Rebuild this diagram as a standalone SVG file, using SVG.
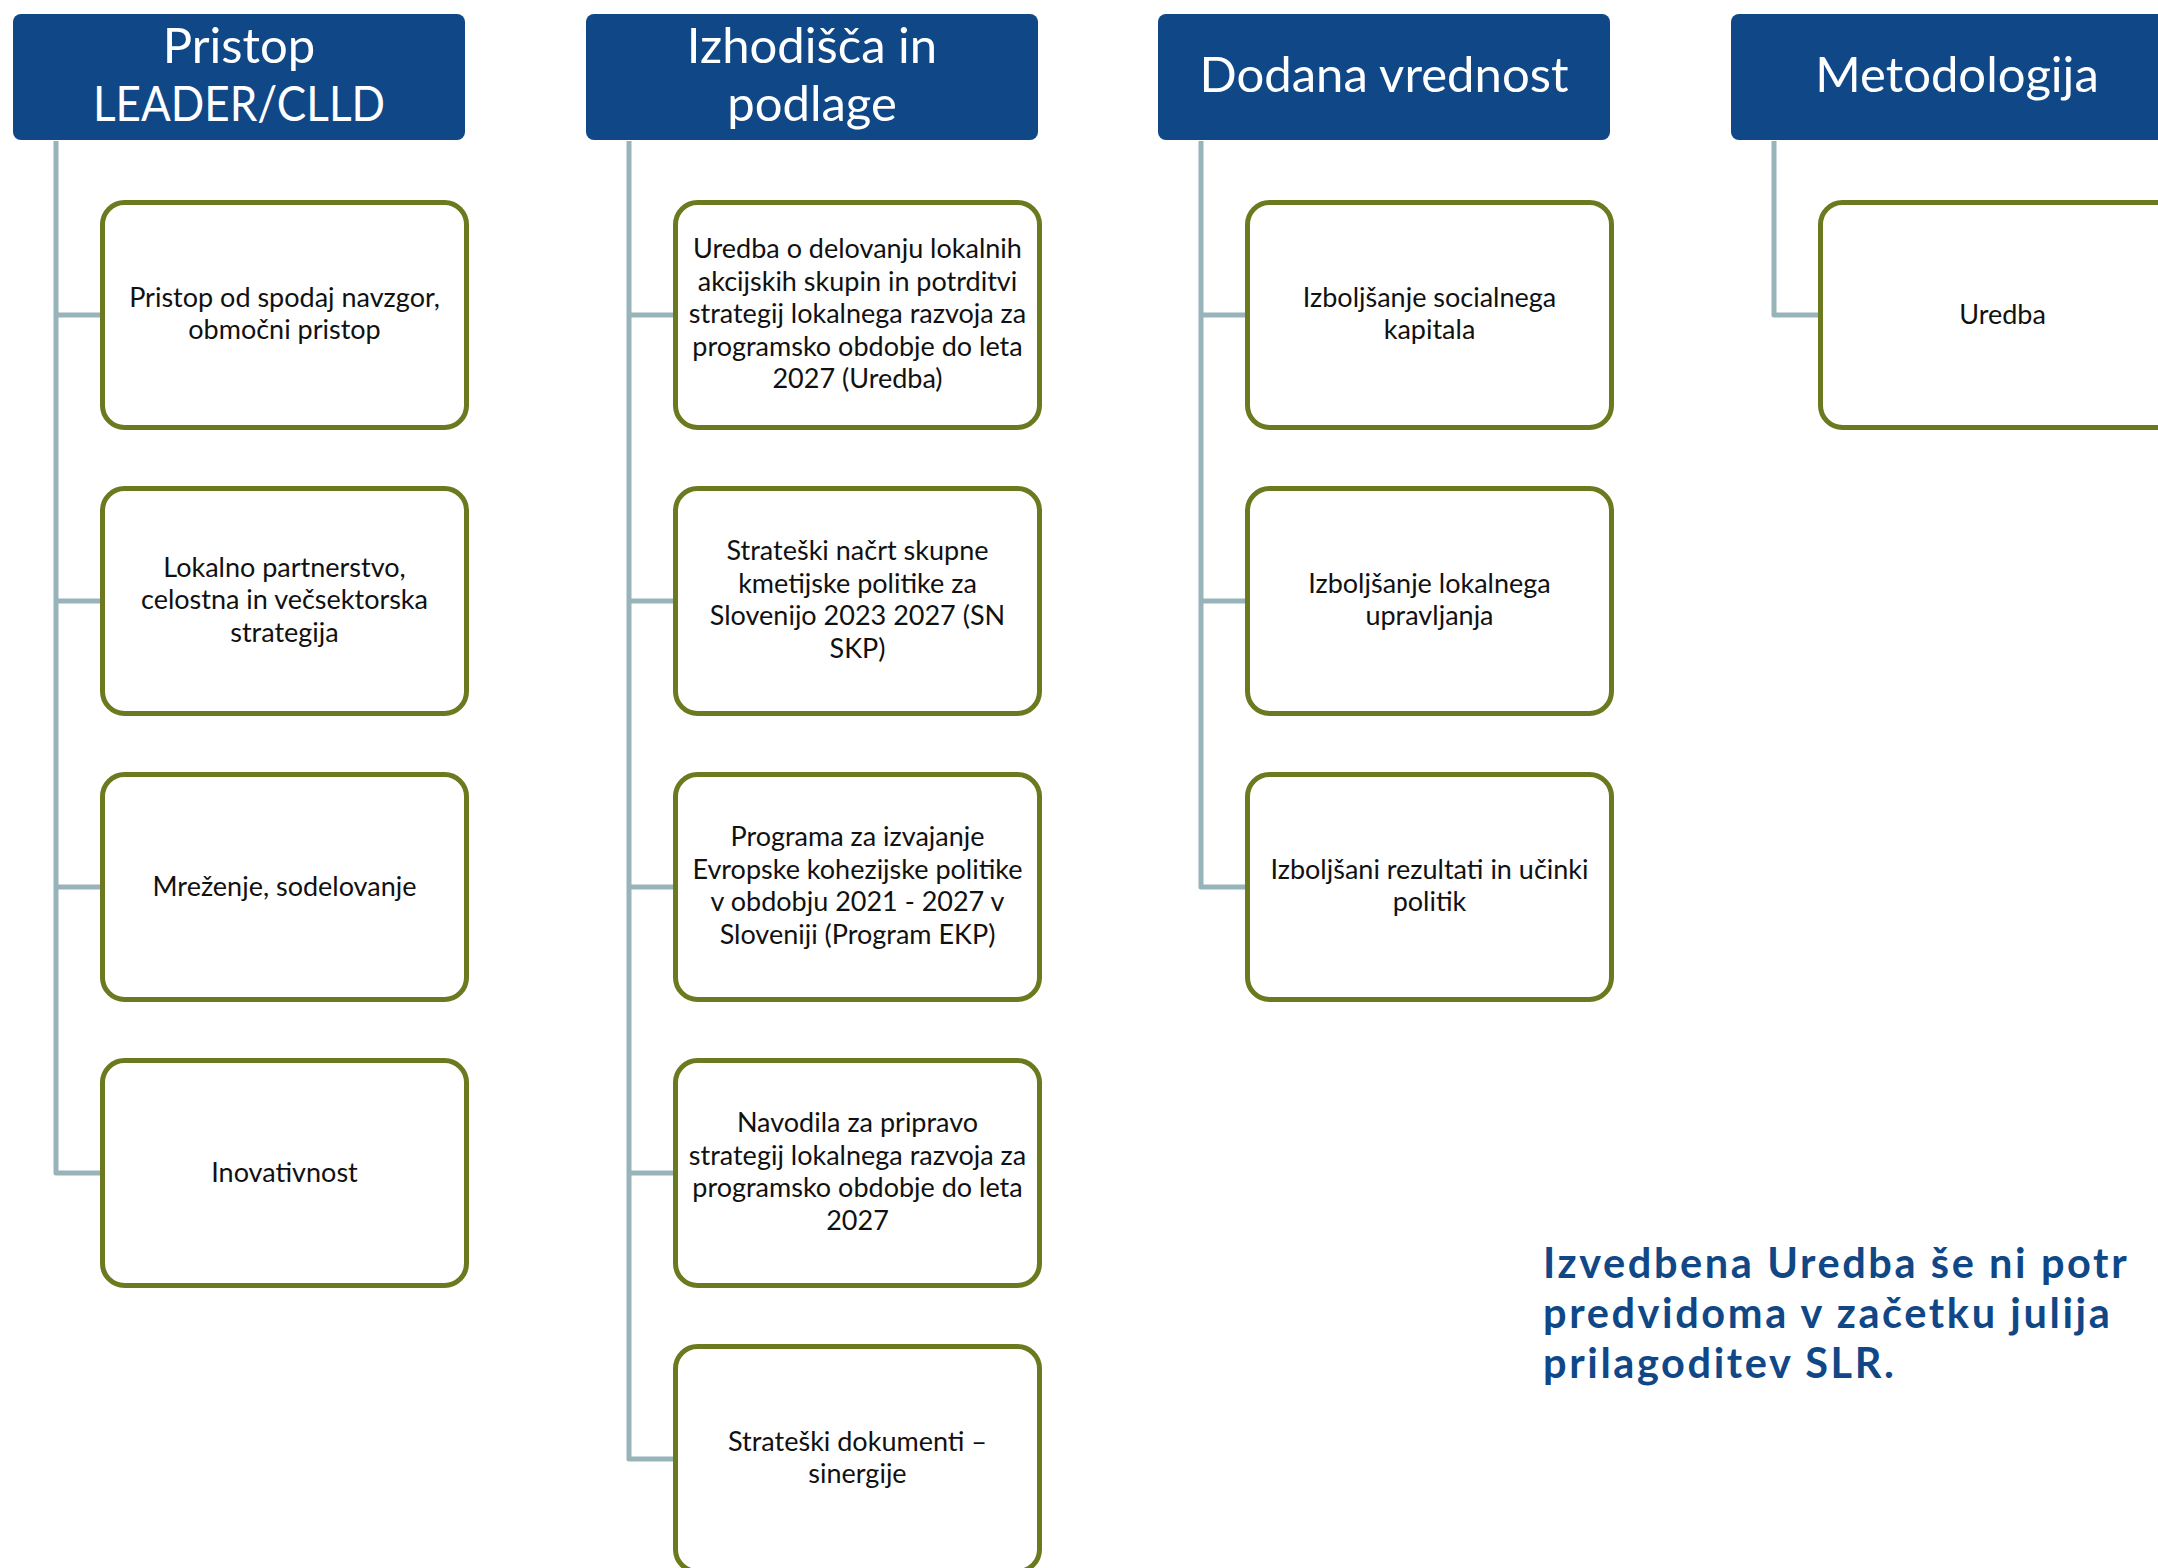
<svg xmlns="http://www.w3.org/2000/svg" width="2158" height="1568" viewBox="0 0 2158 1568">
<style>
.hdr{fill:#104887;}
.ht{fill:#ffffff;font-family:Lato,"Open Sans","Liberation Sans",sans-serif;font-size:49px;text-anchor:middle;}
.box{fill:#ffffff;stroke:#6b7a1f;stroke-width:5;}
.bt{fill:#111111;font-family:Lato,"Open Sans","Liberation Sans",sans-serif;font-size:27px;text-anchor:middle;}
.con{fill:none;stroke:#97b4ba;stroke-width:5;stroke-linejoin:round;}
.note{fill:#104887;font-family:Lato,"Open Sans","Liberation Sans",sans-serif;font-size:41.5px;font-weight:bold;letter-spacing:2.6px;}
</style>
<rect width="2158" height="1568" fill="#ffffff"/>
<g id="connectors">
<path class="con" d="M56,141 V1173 H100 M56,315 H100 M56,601 H100 M56,887 H100"/>
<path class="con" d="M629,141 V1459 H673 M629,315 H673 M629,601 H673 M629,887 H673 M629,1173 H673"/>
<path class="con" d="M1201,141 V887 H1245 M1201,315 H1245 M1201,601 H1245"/>
<path class="con" d="M1774,141 V315 H1818"/>
</g>
<g id="h1"><rect class="hdr" x="13" y="14" width="452" height="126" rx="8"/><text class="ht" x="239" y="63">Pristop</text><text class="ht" x="239" y="121" textLength="292" lengthAdjust="spacingAndGlyphs">LEADER/CLLD</text></g>
<g id="h2"><rect class="hdr" x="586" y="14" width="452" height="126" rx="8"/><text class="ht" x="812" y="63">Izhodišča in</text><text class="ht" x="812" y="121">podlage</text></g>
<g id="h3"><rect class="hdr" x="1158" y="14" width="452" height="126" rx="8"/><text class="ht" x="1384" y="92">Dodana vrednost</text></g>
<g id="h4"><rect class="hdr" x="1731" y="14" width="452" height="126" rx="8"/><text class="ht" x="1957" y="92">Metodologija</text></g>

<g id="c1r1"><rect class="box" x="102.5" y="202.5" width="364" height="225" rx="22"/><text class="bt" x="284.5" y="306.7">Pristop od spodaj navzgor,</text><text class="bt" x="284.5" y="339.2">območni pristop</text></g>
<g id="c1r2"><rect class="box" x="102.5" y="488.5" width="364" height="225" rx="22"/><text class="bt" x="284.5" y="576.5">Lokalno partnerstvo,</text><text class="bt" x="284.5" y="609">celostna in večsektorska</text><text class="bt" x="284.5" y="641.5">strategija</text></g>
<g id="c1r3"><rect class="box" x="102.5" y="774.5" width="364" height="225" rx="22"/><text class="bt" x="284.5" y="896">Mreženje, sodelovanje</text></g>
<g id="c1r4"><rect class="box" x="102.5" y="1060.5" width="364" height="225" rx="22"/><text class="bt" x="284.5" y="1182">Inovativnost</text></g>

<g id="c2r1"><rect class="box" x="675.5" y="202.5" width="364" height="225" rx="22"/><text class="bt" x="857.5" y="258">Uredba o delovanju lokalnih</text><text class="bt" x="857.5" y="290.5">akcijskih skupin in potrditvi</text><text class="bt" x="857.5" y="323">strategij lokalnega razvoja za</text><text class="bt" x="857.5" y="355.5">programsko obdobje do leta</text><text class="bt" x="857.5" y="388">2027 (Uredba)</text></g>
<g id="c2r2"><rect class="box" x="675.5" y="488.5" width="364" height="225" rx="22"/><text class="bt" x="857.5" y="560">Strateški načrt skupne</text><text class="bt" x="857.5" y="592.5">kmetijske politike za</text><text class="bt" x="857.5" y="625">Slovenijo 2023 2027 (SN</text><text class="bt" x="857.5" y="657.5">SKP)</text></g>
<g id="c2r3"><rect class="box" x="675.5" y="774.5" width="364" height="225" rx="22"/><text class="bt" x="857.5" y="846">Programa za izvajanje</text><text class="bt" x="857.5" y="878.5">Evropske kohezijske politike</text><text class="bt" x="857.5" y="911">v obdobju 2021 - 2027 v</text><text class="bt" x="857.5" y="943.5">Sloveniji (Program EKP)</text></g>
<g id="c2r4"><rect class="box" x="675.5" y="1060.5" width="364" height="225" rx="22"/><text class="bt" x="857.5" y="1132">Navodila za pripravo</text><text class="bt" x="857.5" y="1164.5">strategij lokalnega razvoja za</text><text class="bt" x="857.5" y="1197">programsko obdobje do leta</text><text class="bt" x="857.5" y="1229.5">2027</text></g>
<g id="c2r5"><rect class="box" x="675.5" y="1346.5" width="364" height="225" rx="22"/><text class="bt" x="857.5" y="1450.7">Strateški dokumenti –</text><text class="bt" x="857.5" y="1483.2">sinergije</text></g>

<g id="c3r1"><rect class="box" x="1247.5" y="202.5" width="364" height="225" rx="22"/><text class="bt" x="1429.5" y="306.7">Izboljšanje socialnega</text><text class="bt" x="1429.5" y="339.2">kapitala</text></g>
<g id="c3r2"><rect class="box" x="1247.5" y="488.5" width="364" height="225" rx="22"/><text class="bt" x="1429.5" y="592.7">Izboljšanje lokalnega</text><text class="bt" x="1429.5" y="625.2">upravljanja</text></g>
<g id="c3r3"><rect class="box" x="1247.5" y="774.5" width="364" height="225" rx="22"/><text class="bt" x="1429.5" y="878.7">Izboljšani rezultati in učinki</text><text class="bt" x="1429.5" y="911.2">politik</text></g>

<g id="c4r1"><rect class="box" x="1820.5" y="202.5" width="364" height="225" rx="22"/><text class="bt" x="2002.5" y="324">Uredba</text></g>

<g id="note"><text class="note" x="1543" y="1278">Izvedbena Uredba še ni potr</text><text class="note" x="1543" y="1328">predvidoma v začetku julija</text><text class="note" x="1543" y="1378">prilagoditev SLR.</text></g>
</svg>
